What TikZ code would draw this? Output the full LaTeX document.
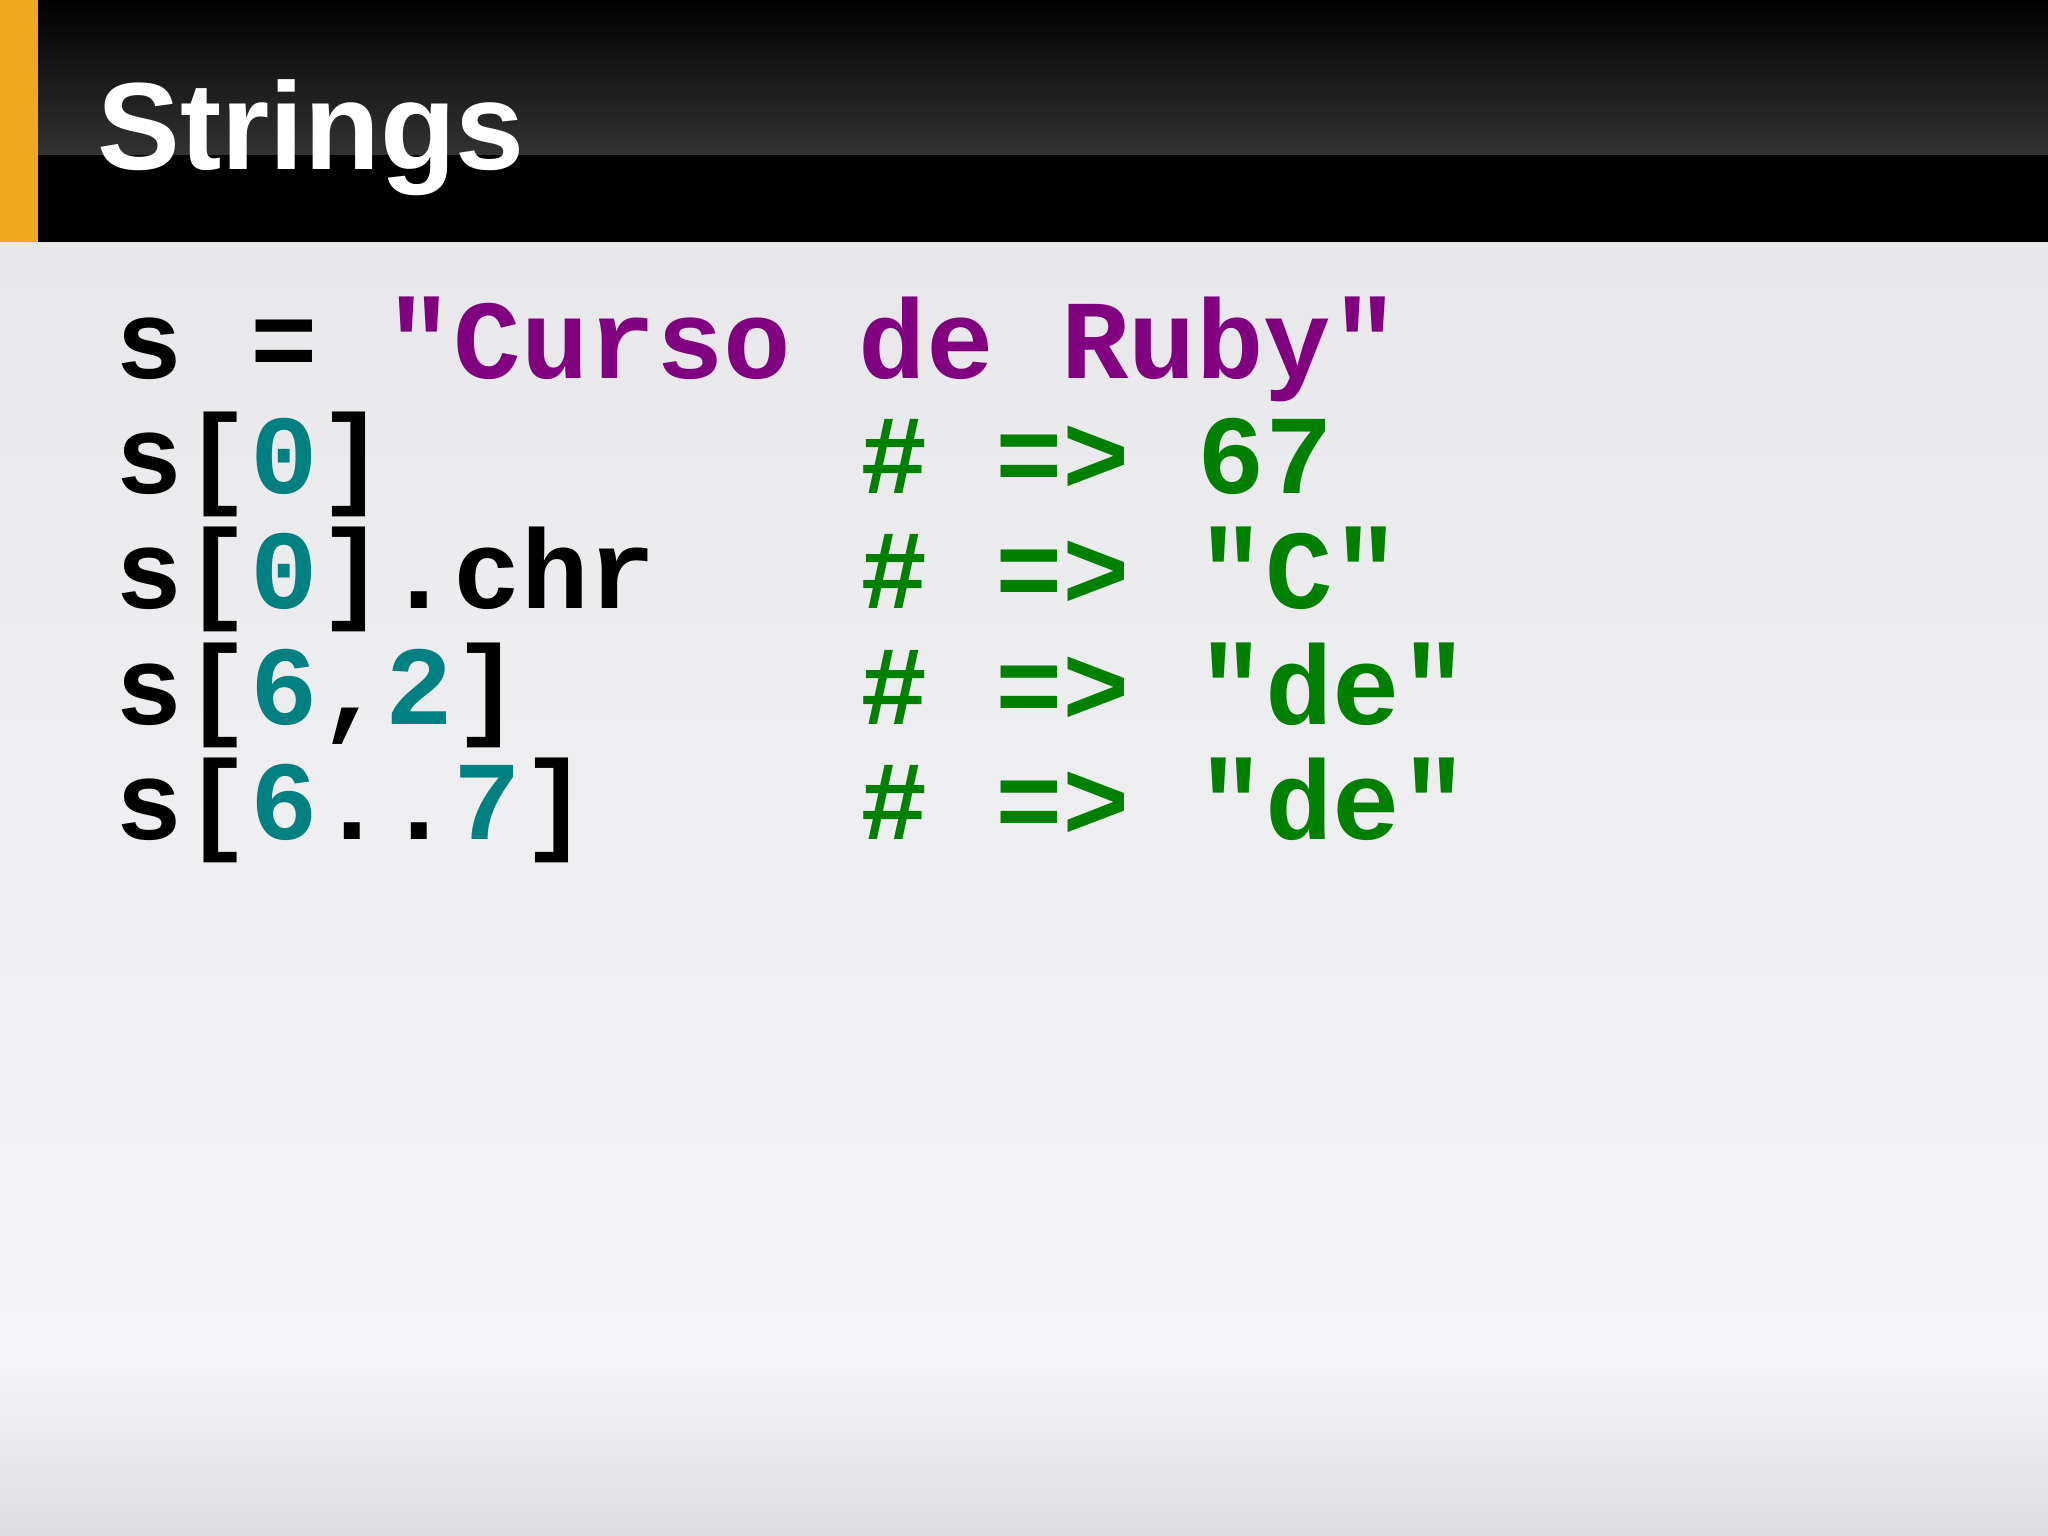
\documentclass[tikz,border=0pt]{standalone}
\usepackage{fontspec}
\setmainfont{Liberation Sans}
\newfontfamily\codefont{Liberation Mono}
\definecolor{rpurple}{RGB}{128,0,128}
\definecolor{rteal}{RGB}{0,128,128}
\definecolor{rgreen}{RGB}{0,128,0}
\definecolor{orng}{RGB}{240,168,32}
\begin{document}
\begin{tikzpicture}[x=0.01cm,y=-0.01cm,
  code/.style={anchor=base west,inner sep=0pt,font=\codefont\bfseries\fontsize{24.5}{28}\selectfont}]
\useasboundingbox (0,0) rectangle (1568,1176);
\shade[top color={rgb,255:red,232;green,232;blue,234},bottom color={rgb,255:red,245;green,244;blue,247}] (0,185) rectangle (1568,1040);
\shade[top color={rgb,255:red,245;green,244;blue,247},bottom color={rgb,255:red,222;green,222;blue,226}] (0,1040) rectangle (1568,1176);
\fill[black] (0,0) rectangle (1568,185);
\shade[top color=black,bottom color={rgb,255:red,50;green,50;blue,50}] (0,0) rectangle (1568,118);
\fill[orng] (0,0) rectangle (29,185);
\node[anchor=base west,inner sep=0pt,text=white,font=\bfseries\fontsize{27}{30}\selectfont] (title) at (74,130) {Strings};
\node[code] (a1) at (88,290) {s = \textcolor{rpurple}{"Curso de Ruby"}};
\node[code] (b1) at (88,378) {s[\textcolor{rteal}{0}]};
\node[code,text=rgreen] (b2) at (658,378) {\# => 67};
\node[code] (c1) at (88,466) {s[\textcolor{rteal}{0}].chr};
\node[code,text=rgreen] (c2) at (658,466) {\# => "C"};
\node[code] (d1) at (88,555) {s[\textcolor{rteal}{6},\textcolor{rteal}{2}]};
\node[code,text=rgreen] (d2) at (658,555) {\# => "de"};
\node[code] (e1) at (88,643) {s[\textcolor{rteal}{6}..\textcolor{rteal}{7}]};
\node[code,text=rgreen] (e2) at (658,643) {\# => "de"};
\end{tikzpicture}
\end{document}
